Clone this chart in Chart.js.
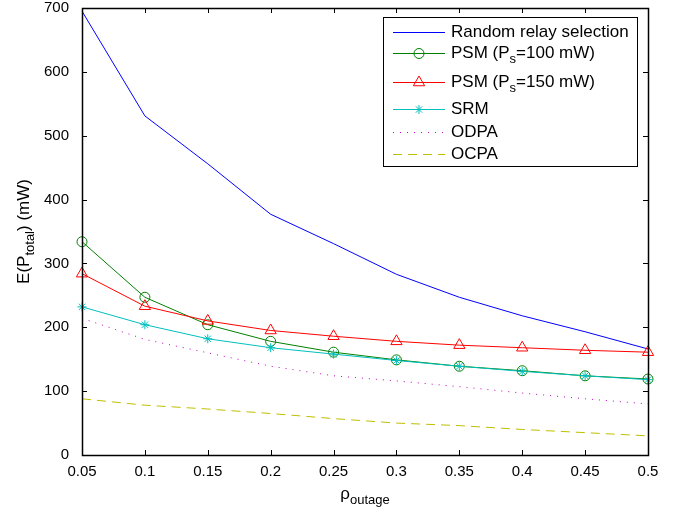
<!DOCTYPE html>
<html>
<head>
<meta charset="utf-8">
<script src="https://cdn.jsdelivr.net/npm/chart.js@4/dist/chart.umd.min.js"></script>
<style>
  html, body { margin: 0; padding: 0; background: #fff; }
  #wrap { width: 683px; height: 509px; }
</style>
</head>
<body>
<div id="wrap"><canvas id="chart" width="683" height="509"></canvas></div>
<script>
const xLabels = ["0.05", "0.1", "0.15", "0.2", "0.25", "0.3", "0.35", "0.4", "0.45", "0.5"];
const yTicks = [0, 100, 200, 300, 400, 500, 600, 700];

const randomRelay = [695, 531, 456, 377, 331, 283, 247, 218, 193, 166];
const psm100 = [334, 247, 204, 178, 161, 149, 139, 132, 124, 119];
const psm150 = [284, 233, 210, 195, 186, 178, 172, 168, 164, 161];
const srm = [232, 204, 182, 168, 158, 148, 139, 131, 124, 118];
const odpa = [214, 181, 160, 139, 124, 116, 107, 97, 88, 80];
const ocpa = [88, 78, 72, 65, 57, 50, 46, 40, 35, 30];

const FONT = "'Liberation Sans', Arial, Helvetica, sans-serif";

const legendItems = [
    { text: ["Random relay selection"], color: "#0000ff", style: false, dash: [] },
    { text: ["PSM (P", "s", "=100 mW)"], color: "#008000", style: "circle", radius: 5, dash: [] },
    { text: ["PSM (P", "s", "=150 mW)"], color: "#ff0000", style: "triangle", radius: 6.5, dash: [] },
    { text: ["SRM"], color: "#00bfbf", style: "star", radius: 4.5, dash: [] },
    { text: ["ODPA"], color: "#bf00bf", style: false, dash: [1, 6] },
    { text: ["OCPA"], color: "#bfbf00", style: false, dash: [9, 6] }
];
const legendRows = [15, 36, 65, 92, 115, 137];

// draws text pieces alternating normal / subscript
function drawSubText(ctx, parts, x, y, size, subSize, subDrop) {
    for (let i = 0; i < parts.length; i++) {
        const sub = i % 2 === 1;
        ctx.font = (sub ? subSize : size) + "px " + FONT;
        ctx.fillText(parts[i], x, sub ? y + subDrop : y);
        x += ctx.measureText(parts[i]).width;
    }
    return x;
}

function measureSubText(ctx, parts, size, subSize) {
    let w = 0;
    for (let i = 0; i < parts.length; i++) {
        ctx.font = (i % 2 === 1 ? subSize : size) + "px " + FONT;
        w += ctx.measureText(parts[i]).width;
    }
    return w;
}

const framePlugin = {
    id: "frame",
    afterDatasetsDraw(chart) {
        const ctx = chart.ctx;
        const a = chart.chartArea;
        const xs = chart.scales.x, ys = chart.scales.y;
        ctx.save();
        ctx.strokeStyle = "#000";
        ctx.lineWidth = 1;
        ctx.setLineDash([]);
        ctx.beginPath();
        const L = 5;
        xLabels.forEach((lab, i) => {
            const px = Math.round(xs.getPixelForValue(i)) + 0.5;
            ctx.moveTo(px, a.bottom); ctx.lineTo(px, a.bottom - L);
            ctx.moveTo(px, a.top); ctx.lineTo(px, a.top + L);
        });
        yTicks.forEach(v => {
            const py = Math.round(ys.getPixelForValue(v)) + 0.5;
            ctx.moveTo(a.left, py); ctx.lineTo(a.left + L, py);
            ctx.moveTo(a.right, py); ctx.lineTo(a.right - L, py);
        });
        ctx.stroke();
        ctx.lineWidth = 1.5;
        ctx.strokeRect(Math.round(a.left) + 0.5, Math.round(a.top) + 0.5,
            Math.round(a.right - a.left), Math.round(a.bottom - a.top));

        // axis titles
        ctx.fillStyle = "#000";
        ctx.textBaseline = "alphabetic";
        ctx.textAlign = "left";
        const xt = ["\u03c1", "outage"];
        const xw = measureSubText(ctx, xt, 17, 13);
        drawSubText(ctx, xt, (a.left + a.right) / 2 - xw / 2, 499, 17, 13, 5);

        const yt = ["E(P", "total", ") (mW)"];
        const yw = measureSubText(ctx, yt, 17, 13);
        ctx.translate(29, (a.top + a.bottom) / 2);
        ctx.rotate(-Math.PI / 2);
        drawSubText(ctx, yt, -yw / 2, 0, 17, 13, 5);
        ctx.restore();

        // legend box
        ctx.save();
        const bx = a.right - 11, by = a.top + 9;
        const bw = 254, bh = 149;
        ctx.fillStyle = "#fff";
        ctx.fillRect(bx - bw, by, bw, bh);
        ctx.strokeStyle = "#000";
        ctx.lineWidth = 1;
        ctx.strokeRect(bx - bw + 0.5, by + 0.5, bw, bh);
        legendItems.forEach((it, i) => {
            const cy = by + legendRows[i];
            const x0 = bx - bw + 10;
            ctx.strokeStyle = it.color;
            ctx.lineWidth = 1;
            ctx.setLineDash(it.dash);
            ctx.beginPath();
            ctx.moveTo(x0, cy + 0.5);
            ctx.lineTo(x0 + 52, cy + 0.5);
            ctx.stroke();
            ctx.setLineDash([]);
            if (it.style) {
                ctx.fillStyle = "rgba(0,0,0,0)";
                Chart.helpers.drawPoint(ctx, {
                    pointStyle: it.style, radius: it.radius, rotation: 0, borderWidth: 1
                }, x0 + 26, cy + 0.5);
            }
            ctx.fillStyle = "#000";
            ctx.textBaseline = "middle";
            drawSubText(ctx, it.text, x0 + 58, cy, 17, 13, 6);
        });
        ctx.restore();
    }
};

new Chart("chart", {
    type: "line",
    data: {
        labels: xLabels,
        datasets: [{
            label: "Random relay selection",
            data: randomRelay,
            borderColor: "#0000ff",
            borderWidth: 1,
            pointRadius: 0,
            order: 5
        }, {
            label: "PSM (Ps=100 mW)",
            data: psm100,
            borderColor: "#008000",
            borderWidth: 1,
            pointStyle: "circle",
            pointRadius: 5,
            pointBorderWidth: 1,
            pointBorderColor: "#008000",
            pointBackgroundColor: "rgba(0,0,0,0)",
            order: 4
        }, {
            label: "PSM (Ps=150 mW)",
            data: psm150,
            borderColor: "#ff0000",
            borderWidth: 1,
            pointStyle: "triangle",
            pointRadius: 6.5,
            pointBorderWidth: 1,
            pointBorderColor: "#ff0000",
            pointBackgroundColor: "rgba(0,0,0,0)",
            order: 3
        }, {
            label: "SRM",
            data: srm,
            borderColor: "#00bfbf",
            borderWidth: 1,
            pointStyle: "star",
            pointRadius: 4.5,
            pointBorderWidth: 1,
            pointBorderColor: "#00bfbf",
            order: 2
        }, {
            label: "ODPA",
            data: odpa,
            borderColor: "#bf00bf",
            borderWidth: 1,
            borderDash: [1, 6],
            pointRadius: 0,
            order: 1
        }, {
            label: "OCPA",
            data: ocpa,
            borderColor: "#bfbf00",
            borderWidth: 1,
            borderDash: [9, 6],
            pointRadius: 0,
            order: 0
        }]
    },
    options: {
        responsive: false,
        animation: false,
        layout: { padding: { top: 8, right: 35, left: 0, bottom: 0 } },
        plugins: {
            legend: { display: false },
            tooltip: { enabled: false }
        },
        elements: { line: { tension: 0 } },
        scales: {
            x: {
                type: "category",
                offset: false,
                grid: { display: false, drawTicks: false },
                border: { display: false },
                ticks: {
                    color: "#000",
                    font: { family: FONT, size: 15 },
                    padding: 8,
                    maxRotation: 0,
                    autoSkip: false
                },
                afterFit: (scale) => {
                    scale.height = 54;
                    scale.paddingLeft = 0;
                    scale.paddingRight = 0;
                }
            },
            y: {
                type: "linear",
                min: 0,
                max: 700,
                grid: { display: false, drawTicks: false },
                border: { display: false },
                ticks: {
                    stepSize: 100,
                    color: "#000",
                    font: { family: FONT, size: 15 },
                    padding: 13
                },
                afterFit: (scale) => {
                    scale.width = 82;
                    scale.paddingTop = 0;
                    scale.paddingBottom = 0;
                }
            }
        }
    },
    plugins: [framePlugin]
});
</script>
</body>
</html>
